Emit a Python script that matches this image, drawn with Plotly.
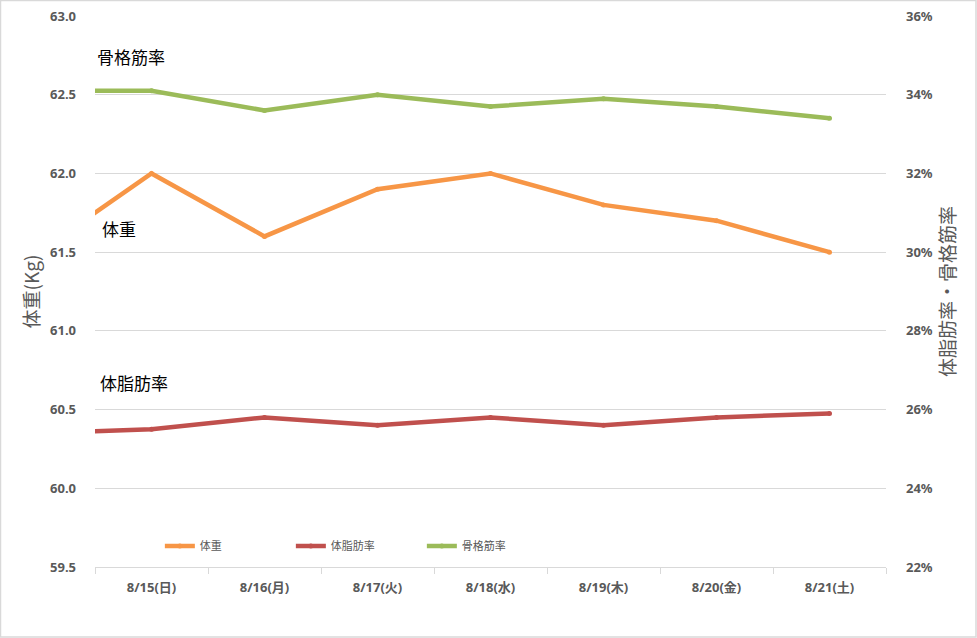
import plotly.graph_objects as go

# 8/14 is only partly visible at the left edge of the chart
days = ["8/14(土)", "8/15(日)", "8/16(月)", "8/17(火)", "8/18(水)", "8/19(木)", "8/20(金)", "8/21(土)"]
weight = [61.5, 62.0, 61.6, 61.9, 62.0, 61.8, 61.7, 61.5]
body_fat = [25.4, 25.5, 25.8, 25.6, 25.8, 25.6, 25.8, 25.9]
muscle = [34.1, 34.1, 33.6, 34.0, 33.7, 33.9, 33.7, 33.4]

xpos = list(range(-1, len(days) - 1))
shown = days[1:]

JP = "Noto Sans CJK JP"
GRAY = "#595959"
GRID = "#d9d9d9"

fig = go.Figure()
fig.add_trace(go.Scatter(x=xpos, y=weight, name="体重", mode="lines+markers",
                         line=dict(color="#F79646", width=4.5),
                         marker=dict(size=5, color="#F79646")))
fig.add_trace(go.Scatter(x=xpos, y=body_fat, name="体脂肪率", mode="lines+markers",
                         yaxis="y2", line=dict(color="#C0504D", width=4.5),
                         marker=dict(size=5, color="#C0504D")))
fig.add_trace(go.Scatter(x=xpos, y=muscle, name="骨格筋率", mode="lines+markers",
                         yaxis="y2", line=dict(color="#9BBB59", width=4.5),
                         marker=dict(size=5, color="#9BBB59")))

labels = [("骨格筋率", 0.0, 0.926), ("体重", 0.006, 0.615), ("体脂肪率", 0.004, 0.334)]
for txt, px, py_ in labels:
    fig.add_annotation(text=txt, x=px, xref="paper", y=py_, yref="paper", showarrow=False,
                       xanchor="left", yanchor="middle",
                       font=dict(family=JP, size=17, color="black"))

fig.update_layout(
    width=977, height=638,
    margin=dict(l=95, r=91, t=16, b=71),
    paper_bgcolor="white", plot_bgcolor="white",
    font=dict(family="Noto Sans, " + JP, color=GRAY),
    showlegend=True,
    legend=dict(orientation="h", x=0.082, y=0.038, xanchor="left", yanchor="middle",
                font=dict(family=JP, size=11, color=GRAY),
                itemwidth=30, entrywidthmode="pixels", entrywidth=86,
                bgcolor="rgba(0,0,0,0)"),
    xaxis=dict(range=[-0.5, 6.5], tickvals=list(range(len(shown))), ticktext=shown,
               automargin=False,
               showgrid=False, zeroline=False, showline=True, linecolor=GRID,
               ticks="", tickfont=dict(family="Noto Sans, " + JP, size=13, color=GRAY, weight="bold"),
               ticklabelstandoff=8,
               minor=dict(tick0=-0.5, dtick=1, ticks="outside", ticklen=6, tickcolor=GRID,
                          showgrid=False)),
    yaxis=dict(range=[59.5, 63.0], dtick=0.5, tickformat=".1f", showgrid=True, gridcolor=GRID,
               automargin=False,
               zeroline=False, ticks="", ticklabelstandoff=18,
               tickfont=dict(size=13, color=GRAY, weight="bold"),
               title=dict(text="体重(Kg)", font=dict(family=JP, size=19, color=GRAY), standoff=5)),
    yaxis2=dict(range=[22, 36], dtick=2, ticksuffix="%", overlaying="y", side="right",
                automargin=False,
                showgrid=False, zeroline=False, ticks="", ticklabelstandoff=19,
                tickfont=dict(size=13, color=GRAY, weight="bold"),
                title=dict(text="体脂肪率・骨格筋率", font=dict(family=JP, size=19, color=GRAY), standoff=8)),
)

fig.add_shape(type="rect", xref="paper", yref="paper", x0=-94.5 / 791, x1=1 + 90 / 791,
              y0=-70 / 551, y1=1 + 15.5 / 551, line=dict(color=GRID, width=1.5), layer="below")

fig.write_html("out.html", config={"displayModeBar": False},
               post_script="document.body.style.margin='0';")
